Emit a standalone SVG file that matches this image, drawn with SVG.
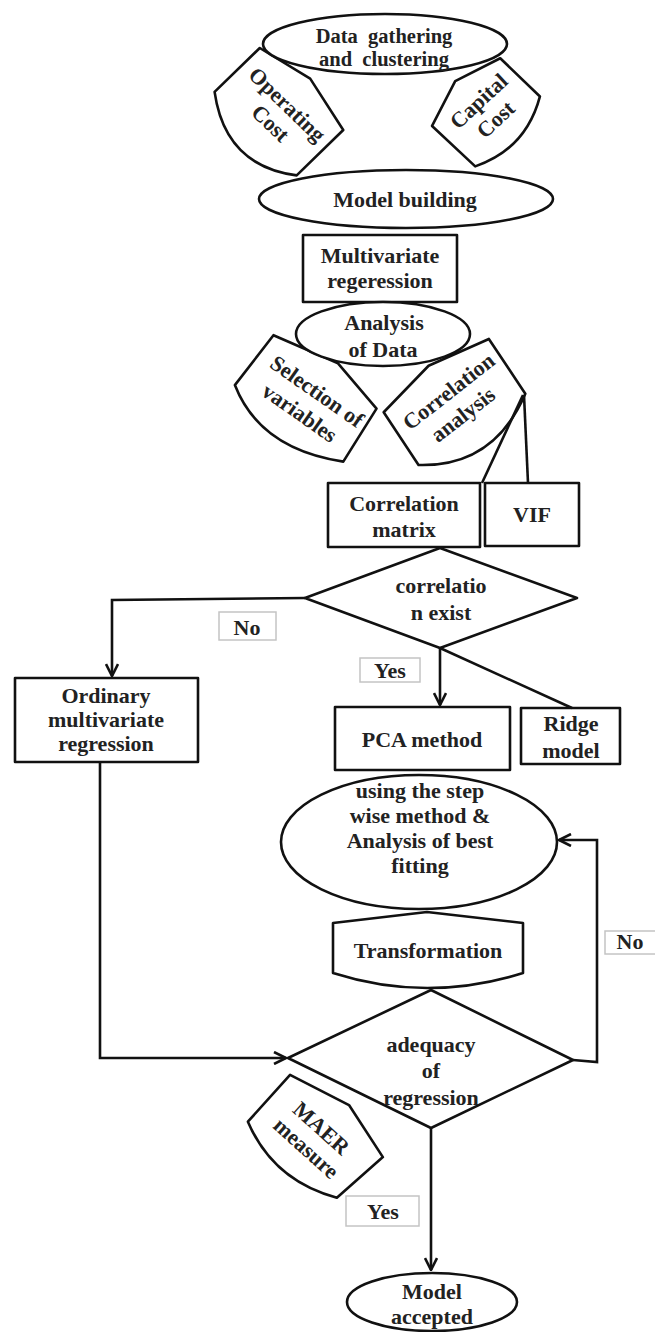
<svg xmlns="http://www.w3.org/2000/svg" width="655" height="1332" viewBox="0 0 655 1332">
<style>
.n{fill:#fff;stroke:#111;stroke-width:2.6;stroke-linejoin:round}
.t{font-family:"Liberation Serif","Times New Roman",serif;font-weight:bold;font-size:22px;fill:#222;text-anchor:middle}
.s{font-size:20.5px}
.c{fill:none;stroke:#111;stroke-width:2.6}
.lb{fill:#fff;stroke:#c4c4c4;stroke-width:1.5}
</style>
<defs>
<marker id="ah" viewBox="0 0 14 14" refX="13" refY="7" markerWidth="14" markerHeight="14" orient="auto" markerUnits="userSpaceOnUse">
<path d="M1,1 L13,7 L1,13" fill="none" stroke="#111" stroke-width="2.6"/>
</marker>
</defs>
<rect width="655" height="1332" fill="#fff"/>

<g id="operating-cost" transform="translate(280,112) rotate(44)">
<path class="n" d="M-59,-32 L-1.5,-45 L58,-31 L56,34 Q-2,77 -61,31 Z"/>
<text class="t" x="0" y="-3">Operating</text>
<text class="t" x="1" y="22">Cost</text>
</g>
<g id="capital-cost" transform="translate(487,113) rotate(-43)">
<path class="n" d="M-49,-28 L-1.5,-45 L47,-31 L50,24 Q4,53 -45,31 Z"/>
<text class="t" x="2" y="-7">Capital</text>
<text class="t" x="2" y="18">Cost</text>
</g>
<g id="data-gathering">
<ellipse class="n" cx="385" cy="44" rx="122" ry="30"/>
<text class="t s" x="384" y="43" xml:space="preserve">Data  gathering</text>
<text class="t s" x="384" y="66" xml:space="preserve">and  clustering</text>
</g>
<g id="model-building">
<ellipse class="n" cx="406" cy="199" rx="147" ry="29"/>
<text class="t" x="405" y="207">Model building</text>
</g>
<g id="multivariate">
<rect class="n" x="303" y="235" width="154" height="67"/>
<text class="t" x="380" y="263">Multivariate</text>
<text class="t" x="380" y="288">regeression</text>
</g>
<g id="selection" transform="translate(305,400) rotate(35)">
<path class="n" d="M-63,-35 L6,-49 L63.5,-34 L66.7,28.5 Q-9,66 -66,28 Z"/>
<text class="t" x="5" y="-6.5">Selection of</text>
<text class="t" x="3" y="21">variables</text>
</g>
<g id="correlation-analysis" transform="translate(457,407) rotate(-38)">
<path class="n" d="M-61,-41 L3,-50 L67,-34 L62,31.6 Q-8,70 -66,22 Z"/>
<text class="t" x="3" y="-10">Correlation</text>
<text class="t" x="0" y="17">analysis</text>
</g>
<g id="analysis-of-data">
<ellipse class="n" cx="383" cy="334" rx="87" ry="32"/>
<text class="t" x="384" y="330">Analysis</text>
<text class="t" x="383" y="357">of Data</text>
</g>
<g id="correlation-matrix">
<rect class="n" x="328" y="483" width="152" height="64"/>
<text class="t" x="404" y="511">Correlation</text>
<text class="t" x="404" y="537">matrix</text>
</g>
<g id="vif">
<rect class="n" x="485" y="483" width="94" height="63"/>
<text class="t" x="532" y="522">VIF</text>
</g>
<g id="correlation-exist">
<path class="n" d="M440,548 L577,598 L440,648 L305,598 Z"/>
<text class="t" x="441" y="593">correlatio</text>
<text class="t" x="441" y="620">n exist</text>
</g>
<g id="ordinary">
<rect class="n" x="15" y="678" width="183" height="84"/>
<text class="t" x="106" y="703">Ordinary</text>
<text class="t" x="106" y="727">multivariate</text>
<text class="t" x="106" y="751">regression</text>
</g>
<g id="pca">
<rect class="n" x="335" y="707" width="175" height="63"/>
<text class="t" x="422" y="747">PCA method</text>
</g>
<g id="ridge">
<rect class="n" x="521" y="708" width="99" height="56"/>
<text class="t" x="571" y="731">Ridge</text>
<text class="t" x="571" y="758">model</text>
</g>
<g id="stepwise">
<ellipse class="n" cx="419" cy="842" rx="138" ry="67"/>
<text class="t" x="420" y="798">using the step</text>
<text class="t" x="420" y="823">wise method &amp;</text>
<text class="t" x="420" y="848">Analysis of best</text>
<text class="t" x="420" y="873">fitting</text>
</g>
<g id="transformation">
<path class="n" d="M333,923 L427,912 L523,923 L523,973 Q427,1003 333,973 Z"/>
<text class="t" x="428" y="958">Transformation</text>
</g>
<g id="adequacy">
<path class="n" d="M431,990 L573,1060 L431,1128 L288,1058 Z"/>
<text class="t" x="431" y="1052">adequacy</text>
<text class="t" x="431" y="1078">of</text>
<text class="t" x="431" y="1105">regression</text>
</g>
<g id="maer" transform="translate(318,1135) rotate(42)">
<path class="n" d="M-61,-26 L3,-43 L63,-27 L56,34 Q-3,64 -61,37 Z"/>
<text class="t" x="-2" y="0">MAER</text>
<text class="t" x="0" y="25">measure</text>
</g>
<g id="model-accepted">
<ellipse class="n" cx="432" cy="1302" rx="85" ry="29"/>
<text class="t" x="432" y="1299">Model</text>
<text class="t" x="432" y="1324">accepted</text>
</g>

<g id="connectors">
<path class="c" d="M523,395 L482,483"/>
<path class="c" d="M524,395 L528,483"/>
<path class="c" d="M305,598 L112,600 L112,676" marker-end="url(#ah)"/>
<path class="c" d="M440,648 L440,705" marker-end="url(#ah)"/>
<path class="c" d="M440,648 L572,708"/>
<path class="c" d="M100,762 L100,1058 L286,1058" marker-end="url(#ah)"/>
<path class="c" d="M573,1060 L597,1062 L597,840 L559,840" marker-end="url(#ah)"/>
<path class="c" d="M431,1128 L431,1270" marker-end="url(#ah)"/>
</g>

<g id="labels">
<rect class="lb" x="219" y="612" width="57" height="28"/>
<text class="t" x="247" y="635">No</text>
<rect class="lb" x="360" y="658" width="60" height="24"/>
<text class="t" x="390" y="678">Yes</text>
<rect class="lb" x="605" y="931" width="52" height="23"/>
<text class="t" x="630" y="949">No</text>
<rect class="lb" x="346" y="1196" width="73" height="30"/>
<text class="t" x="383" y="1219">Yes</text>
</g>
</svg>
